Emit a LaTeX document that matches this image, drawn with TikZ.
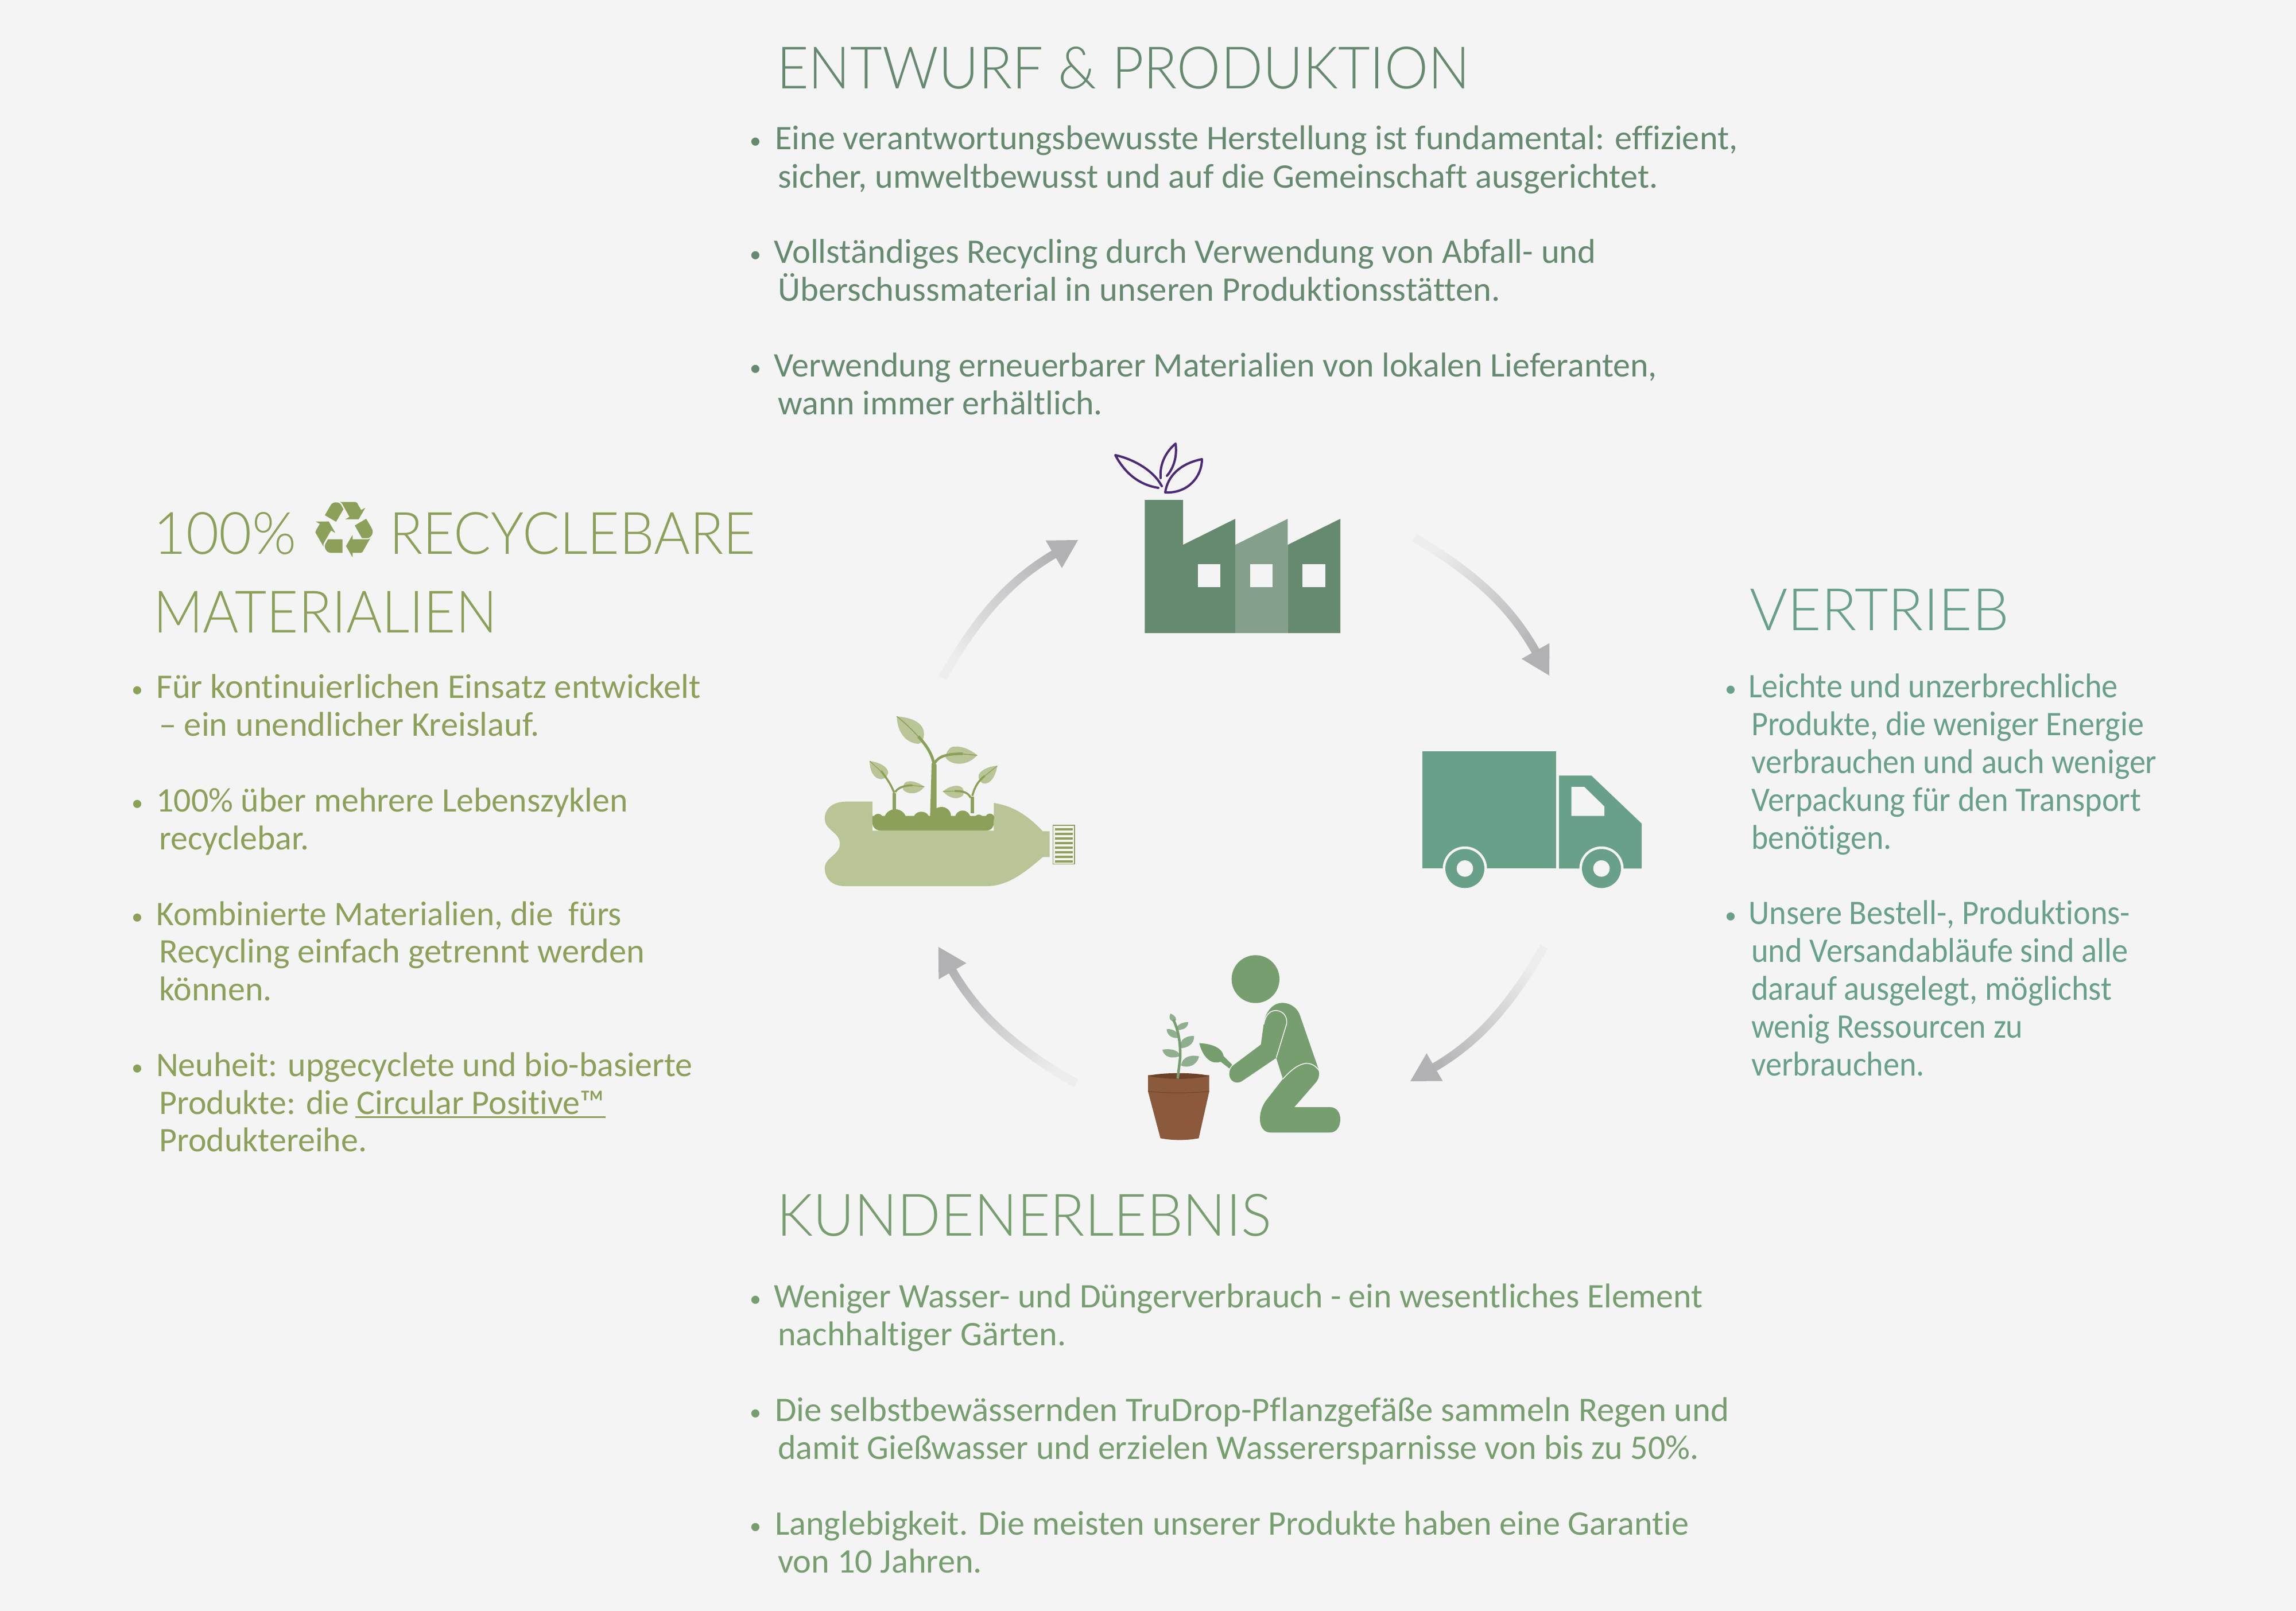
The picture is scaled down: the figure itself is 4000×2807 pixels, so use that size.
\documentclass[tikz,border=0pt]{standalone}
\usepackage{fontspec}
\usetikzlibrary{arrows.meta,fadings}
\setmainfont[Ligatures=NoCommon]{Carlito}
\newfontfamily\headfont{Lato Light}
\newfontfamily\symfont{DejaVu Sans}
\definecolor{bgc}{HTML}{F4F4F4}
\definecolor{topc}{HTML}{658A6F}
\definecolor{topl}{HTML}{84A08B}
\definecolor{leftc}{HTML}{8CA05A}
\definecolor{leftl}{HTML}{B9C597}
\definecolor{rightc}{HTML}{69A08A}
\definecolor{botc}{HTML}{769E6E}
\definecolor{botl}{HTML}{8FB08F}
\definecolor{potc}{HTML}{8B5A3C}
\definecolor{potd}{HTML}{6D4229}
\definecolor{purp}{HTML}{4B2A78}
\definecolor{arrowc}{HTML}{B1B1B4}
\tikzfading[name=bandfade,left color=transparent!90,middle color=transparent!0,right color=transparent!0]
\tikzset{
 txt/.style={anchor=base west,inner sep=0pt,font=\fontsize{60}{66}\selectfont},
 sqz/.style={xscale=#1,transform shape},
 head/.style={anchor=base west,inner sep=0pt,font=\fontsize{102}{110}\headfont},
 dot/.style={anchor=base,inner sep=0pt,font=\fontsize{40}{44}\selectfont},
 band/.style={draw=arrowc,line width=15pt,-{Triangle[length=50pt,width=52pt]},path fading=bandfade},
}
\newcommand\bulletmark{\raisebox{2pt}{•}}
\begin{document}
\begin{tikzpicture}[x=1pt,y=-1pt]
\useasboundingbox (0,0) rectangle (4000,2807);
\fill[bgc] (0,0) rectangle (4000,2807);
% headings
\node[head,text=topc,sqz=0.943] (h1) at (1353,155) {ENTWURF \& PRODUKTION};
\node[head,text=leftc,sqz=0.97] (h2a) at (267,965) {100\%};
\node[anchor=base,inner sep=0pt,text=leftc,font=\fontsize{137}{140}\symfont] (rec) at (600,971) {♻};
\node[head,text=leftc,sqz=0.943] (h2b) at (678,965) {RECYCLEBARE};
\node[head,text=leftc,sqz=0.935] (h2c) at (267,1102) {MATERIALIEN};
\node[head,text=rightc,sqz=0.99] (h3) at (3048,1098) {VERTRIEB};
\node[head,text=botc,sqz=0.975] (h4) at (1353,2153) {KUNDENERLEBNIS};
% top text
\begin{scope}[every node/.append style={text=topc}]
\node[dot] (b11) at (1316,261) {\bulletmark};
\node[txt,sqz=1.005] (t11) at (1350,261) {Eine verantwortungsbewusste Herstellung ist fundamental: effizient,};
\node[txt,sqz=1.005] (t12) at (1355,327) {sicher, umweltbewusst und auf die Gemeinschaft ausgerichtet.};
\node[dot] (b12) at (1316,458) {\bulletmark};
\node[txt,sqz=1.011] (t13) at (1348,458) {Vollständiges Recycling durch Verwendung von Abfall- und};
\node[txt,sqz=1.012] (t14) at (1355,524) {Überschussmaterial in unseren Produktionsstätten.};
\node[dot] (b13) at (1316,656) {\bulletmark};
\node[txt] (t15) at (1348,656) {Verwendung erneuerbarer Materialien von lokalen Lieferanten,};
\node[txt] (t16) at (1355,722) {wann immer erhältlich.};
\end{scope}
% left text
\begin{scope}[every node/.append style={text=leftc}]
\node[dot] (b21) at (239,1216) {\bulletmark};
\node[txt,sqz=1.012] (t21) at (272,1216) {Für kontinuierlichen Einsatz entwickelt};
\node[txt,sqz=1.008] (t22) at (277,1282) {– ein unendlicher Kreislauf.};
\node[dot] (b22) at (239,1414) {\bulletmark};
\node[txt] (t23) at (272,1414) {100\% über mehrere Lebenszyklen};
\node[txt] (t24) at (277,1480) {recyclebar.};
\node[dot] (b23) at (239,1612) {\bulletmark};
\node[txt,sqz=0.99] (t25) at (272,1612) {Kombinierte Materialien, die\ \ fürs};
\node[txt,sqz=1.008] (t26) at (277,1677) {Recycling einfach getrennt werden};
\node[txt] (t27) at (277,1743) {können.};
\node[dot] (b24) at (239,1875) {\bulletmark};
\node[txt] (t28) at (272,1875) {Neuheit: upgecyclete und bio-basierte};
\node[txt] (t29) at (277,1941) {Produkte: die Circular Positive™};
\node[txt] (t2a) at (277,2006) {Produktereihe.};
\end{scope}
\draw[leftc,line width=2.5pt] (619,1946.5) -- (1055,1946.5);
% right text
\begin{scope}[every node/.append style={text=rightc}]
\node[dot] (b31) at (3015,1215) {\bulletmark};
\node[txt,sqz=0.94] (t31) at (3046,1215) {Leichte und unzerbrechliche};
\node[txt,sqz=0.935] (t32) at (3051,1281) {Produkte, die weniger Energie};
\node[txt,sqz=0.935] (t33) at (3051,1347) {verbrauchen und auch weniger};
\node[txt,sqz=0.94] (t34) at (3051,1413) {Verpackung für den Transport};
\node[txt,sqz=0.93] (t35) at (3051,1479) {benötigen.};
\node[dot] (b32) at (3015,1610) {\bulletmark};
\node[txt,sqz=0.94] (t36) at (3046,1610) {Unsere Bestell-, Produktions-};
\node[txt,sqz=0.94] (t37) at (3051,1676) {und Versandabläufe sind alle};
\node[txt,sqz=0.94] (t38) at (3051,1742) {darauf ausgelegt, möglichst};
\node[txt,sqz=0.935] (t39) at (3051,1808) {wenig Ressourcen zu};
\node[txt,sqz=0.937] (t3a) at (3051,1874) {verbrauchen.};
\end{scope}
% bottom text
\begin{scope}[every node/.append style={text=botc}]
\node[dot] (b41) at (1316,2278) {\bulletmark};
\node[txt,sqz=0.997] (t41) at (1348,2278) {Weniger Wasser- und Düngerverbrauch - ein wesentliches Element};
\node[txt,sqz=1.003] (t42) at (1355,2344) {nachhaltiger Gärten.};
\node[dot] (b42) at (1316,2476) {\bulletmark};
\node[txt,sqz=1.014] (t43) at (1350,2476) {Die selbstbewässernden TruDrop-Pflanzgefäße sammeln Regen und};
\node[txt] (t44) at (1355,2542) {damit Gießwasser und erzielen Wasserersparnisse von bis zu 50\%.};
\node[dot] (b43) at (1316,2674) {\bulletmark};
\node[txt,sqz=1.003] (t45) at (1350,2674) {Langlebigkeit. Die meisten unserer Produkte haben eine Garantie};
\node[txt,sqz=1.006] (t46) at (1355,2740) {von 10 Jahren.};
\end{scope}
% arrows
\coordinate (a1s) at (2465,937); \coordinate (a1e) at (2700,1178);
\coordinate (a2s) at (2690,1650); \coordinate (a2e) at (2456,1885);
\coordinate (a3s) at (1875,1888); \coordinate (a3e) at (1634,1649);
\coordinate (a4s) at (1642,1181); \coordinate (a4e) at (1879,940);
\draw[band,fading angle=-43] (a1s) to[bend left=15] (a1e);
\draw[band,fading angle=-132] (a2s) to[bend left=15] (a2e);
\draw[band,fading angle=138] (a3s) to[bend left=15] (a3e);
\draw[band,fading angle=48] (a4s) to[bend left=15] (a4e);
% factory
\fill[topc] (1994.3,871) -- (2061,871) -- (2061,949.3) -- (2152,904) -- (2152,1103) -- (1994.3,1103) -- cycle;
\fill[topl] (2152,949.3) -- (2243.4,904) -- (2243.4,1103) -- (2152,1103) -- cycle;
\fill[topc] (2243.4,949.3) -- (2335,904) -- (2335,1103) -- (2243.4,1103) -- cycle;
\fill[bgc] (2086.5,983.3) rectangle (2126.3,1022.7);
\fill[bgc] (2177.6,983.3) rectangle (2217.4,1022.7);
\fill[bgc] (2269,983.3) rectangle (2309,1022.7);
\begin{scope}[draw=purp,line width=4pt,line cap=round,line join=round]
\draw[purp] (2018,850) .. controls (1985,845) and (1960,825) .. (1943,793) .. controls (1975,800) and (2010,820) .. (2024,847);
\draw[purp] (2022,833) .. controls (2020,810) and (2030,788) .. (2048,773) .. controls (2051,795) and (2045,815) .. (2033,829);
\draw[purp] (2030,858) .. controls (2034,830) and (2055,808) .. (2094,800) .. controls (2094,830) and (2070,860) .. (2030,858);
\end{scope}
% truck
\fill[rightc] (2478.3,1309.3) rectangle (2710.7,1513.3);
\fill[rightc] (2716,1351.3) -- (2772.3,1351.3) -- (2860,1435) -- (2860,1513.3) -- (2716,1513.3) -- cycle;
\fill[bgc] (2737.7,1371) -- (2760,1371) -- (2795,1405) -- (2795,1421.7) -- (2737.7,1421.7) -- cycle;
\foreach \wx in {2552,2790}{
 \fill[bgc] (\wx,1513.3) circle[radius=38.5pt];
 \fill[rightc] (\wx,1513.3) circle[radius=34pt];
 \fill[bgc] (\wx,1513.3) circle[radius=14.3pt];
}
% gardener and pot, in crop coordinates
\begin{scope}[shift={(1950,1630)},x=0.33333pt,y=-0.33333pt]
\fill[botc] (712,228) circle[radius=41.7pt];
\fill[botc] (755,460) .. controls (765,390) and (810,352) .. (850,352) .. controls (900,352) and (935,385) .. (945,420) -- (1040,695) .. controls (1050,730) and (1040,750) .. (1030,765) -- (915,897) -- (1100,897) .. controls (1135,897) and (1155,925) .. (1155,960) .. controls (1155,1000) and (1135,1030) .. (1100,1030) -- (790,1030) .. controls (755,1030) and (735,1000) .. (735,960) .. controls (735,925) and (745,895) .. (765,865) -- (855,750) -- (820,640) -- (640,762) .. controls (610,780) and (575,760) .. (575,725) .. controls (575,700) and (585,685) .. (600,675) -- (740,570) -- cycle;
\draw[bgc,line width=1.5pt] (755,465) .. controls (765,410) and (790,392) .. (820,392) .. controls (855,395) and (878,420) .. (875,460) -- (820,640);
\draw[bgc,line width=1.5pt] (855,750) .. controls (900,700) and (940,670) .. (980,668) .. controls (1010,668) and (1035,690) .. (1045,708);
\fill[botc] (418,563) .. controls (470,565) and (535,580) .. (545,630) -- (590,675) -- (575,695) -- (530,660) .. controls (490,675) and (440,650) .. (418,563) -- cycle;
% pot
\fill[potc] (150,730) -- (470,730) -- (470,815) -- (415,1060) .. controls (350,1072) and (280,1072) .. (215,1060) -- (150,815) -- cycle;
\fill[potd] (150,733) .. controls (230,715) and (390,715) .. (470,733) .. controls (390,755) and (230,755) .. (150,733) -- cycle;
\draw[potd,line width=1pt] (150,815) .. controls (260,825) and (360,825) .. (470,815);
% plant
\foreach \lf in {
 {(268,408) .. controls (295,420) and (305,440) .. (290,450) .. controls (265,450) and (255,430) .. (268,408)},
 {(360,453) .. controls (330,452) and (300,465) .. (295,495) .. controls (330,495) and (360,485) .. (360,453)},
 {(247,490) .. controls (280,485) and (310,505) .. (312,535) .. controls (280,540) and (250,525) .. (247,490)},
 {(390,525) .. controls (350,525) and (315,540) .. (315,590) .. controls (350,590) and (395,570) .. (390,525)},
 {(225,597) .. controls (260,590) and (310,595) .. (318,630) .. controls (280,645) and (235,640) .. (225,597)},
 {(417,632) .. controls (380,622) and (330,630) .. (322,680) .. controls (360,695) and (405,680) .. (417,632)}}
 {\fill[botl] \lf -- cycle;}
\draw[botc,line width=4.5pt] (305,748) -- (318,640) .. controls (320,570) and (312,500) .. (282,440);
\end{scope}
% bottle, in crop coordinates
\begin{scope}[shift={(1400,1200)},x=0.35077pt,y=-0.33333pt]
\fill[leftl] (342,590) -- (215,590) .. controls (140,590) and (105,630) .. (105,680) .. controls (105,740) and (180,750) .. (180,810) .. controls (180,870) and (105,880) .. (105,940) .. controls (105,990) and (140,1032) .. (205,1032) -- (910,1032) .. controls (1020,1032) and (1110,950) .. (1188,880) -- (1222,880) -- (1222,745) -- (1188,745) .. controls (1120,670) and (1050,615) .. (945,597) -- (945,742) -- (342,742) -- cycle;
\fill[leftc] (342,665) -- (945,665) -- (945,700) .. controls (945,725) and (930,742) .. (905,742) -- (385,742) .. controls (360,742) and (342,725) .. (342,700) -- cycle;
\foreach \cx/\cy/\cr in {370/678/24,455/685/55,585/685/42,685/665/47,790/675/38,870/680/22,925/675/22}
 {\fill[leftc] (\cx,\cy) ellipse[x radius=\cr*1.0,y radius=\cr*1.0];}
\foreach \lf in {
 {(463,145) .. controls (540,150) and (600,180) .. (598,240) .. controls (595,270) and (585,285) .. (570,288) .. controls (510,285) and (465,230) .. (463,145)},
 {(862,348) .. controls (820,310) and (770,295) .. (735,305) .. controls (715,320) and (705,340) .. (705,360) .. controls (730,400) and (810,410) .. (862,348)},
 {(328,378) .. controls (380,385) and (420,410) .. (420,440) .. controls (415,460) and (405,470) .. (385,473) .. controls (345,470) and (328,425) .. (328,378)},
 {(600,512) .. controls (570,490) and (530,475) .. (505,490) .. controls (495,500) and (490,515) .. (495,530) .. controls (520,555) and (570,555) .. (600,512)},
 {(692,537) .. controls (720,510) and (770,495) .. (790,520) .. controls (798,535) and (795,550) .. (790,560) .. controls (760,585) and (720,570) .. (692,537)},
 {(962,403) .. controls (920,405) and (880,425) .. (870,450) .. controls (865,470) and (875,485) .. (890,495) .. controls (930,505) and (955,450) .. (962,403)}}
 {\fill[leftl] \lf -- cycle;}
\fill[leftc] (628,670) -- (636,390) -- (660,395) -- (660,670) -- cycle;
\draw[leftc,line width=5pt] (648,400) .. controls (640,340) and (605,290) .. (570,250);
\draw[leftc,line width=1.5pt] (575,257) .. controls (540,215) and (500,175) .. (463,145);
\draw[leftc,line width=4.5pt] (650,390) .. controls (670,350) and (720,340) .. (790,340);
\draw[leftc,line width=1.5pt] (780,340) -- (862,348);
\draw[leftc,line width=6pt] (450,650) -- (450,545);
\draw[leftc,line width=3.5pt] (450,545) .. controls (435,500) and (410,465) .. (385,430);
\draw[leftc,line width=1.2pt] (390,437) -- (328,378);
\draw[leftc,line width=3.5pt] (455,540) .. controls (470,515) and (505,505) .. (540,505);
\draw[leftc,line width=1.2pt] (530,505) -- (600,512);
\draw[leftc,line width=6pt] (838,650) -- (838,565);
\draw[leftc,line width=3.5pt] (838,560) .. controls (850,510) and (870,480) .. (900,455);
\draw[leftc,line width=1.2pt] (895,460) -- (962,403);
\draw[leftc,line width=3.5pt] (830,570) .. controls (815,540) and (790,535) .. (750,535);
\draw[leftc,line width=1.2pt] (760,535) -- (692,537);
% cap
\draw[leftc,line width=1.5pt,fill=bgc] (1239,714) rectangle (1346,916);
\foreach \by in {728,752,776,800,824,848,872,896}
 {\fill[leftc] (1248,\by) rectangle (1337,\by+14);}
\end{scope}
\end{tikzpicture}
\end{document}
